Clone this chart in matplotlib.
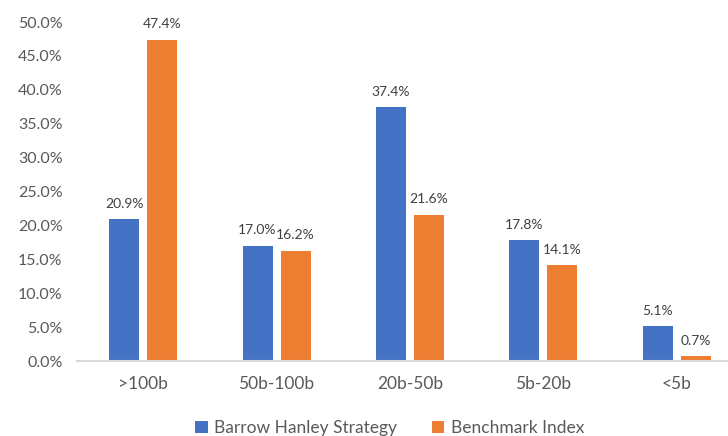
import matplotlib
matplotlib.use("Agg")
import matplotlib.pyplot as plt
import numpy as np
from matplotlib.ticker import FuncFormatter

categories = [">100b", "50b-100b", "20b-50b", "5b-20b", "<5b"]
strategy = [20.9, 17.0, 37.4, 17.8, 5.1]
benchmark = [47.4, 16.2, 21.6, 14.1, 0.7]
series_names = ["Barrow Hanley Strategy", "Benchmark Index"]

plt.rcParams['font.family'] = ['Lato', 'DejaVu Sans']
fig = plt.figure(figsize=(7.28, 4.36), dpi=100)
W, H = 728, 436
ax = fig.add_axes([76.5 / W, 75 / H, 666.7 / W, 339 / H])

x = np.arange(len(categories))
bw = 0.225
off = 0.1425
b1 = ax.bar(x - off, strategy, bw, color="#4472C4", label=series_names[0])
b2 = ax.bar(x + off, benchmark, bw, color="#ED7D31", label=series_names[1])

for bars, vals in ((b1, strategy), (b2, benchmark)):
    for r, v in zip(bars, vals):
        ax.annotate(f"{v:.1f}%", (r.get_x() + r.get_width() / 2, v),
                    xytext=(0, 7), textcoords="offset points",
                    ha="center", va="bottom", fontsize=10, color="#404040")

ax.set_xlim(-0.5, 4.5)
ax.set_ylim(0, 50)
ax.set_yticks(np.arange(0, 50.1, 5))
ax.yaxis.set_major_formatter(FuncFormatter(lambda v, p: f"{v:.1f}%"))
ax.set_xticks(x)
ax.set_xticklabels(categories)
for s in ("top", "right", "left"):
    ax.spines[s].set_visible(False)
ax.spines["bottom"].set_color("#D9D9D9")
ax.spines["bottom"].set_linewidth(1.5)
ax.tick_params(axis="y", length=0, labelsize=11.5, colors="#595959", pad=10)
ax.tick_params(axis="x", length=0, labelsize=12.5, colors="#595959", pad=11)

fig.legend(handles=[b1, b2], labels=series_names, loc="center",
           bbox_to_anchor=(390 / W, 1 - 428 / H), ncol=2, frameon=False,
           fontsize=12.5, labelcolor="#595959", handlelength=0.7, handleheight=0.7,
           handletextpad=0.4, columnspacing=2.0)

fig.savefig("out.png", dpi=100)
